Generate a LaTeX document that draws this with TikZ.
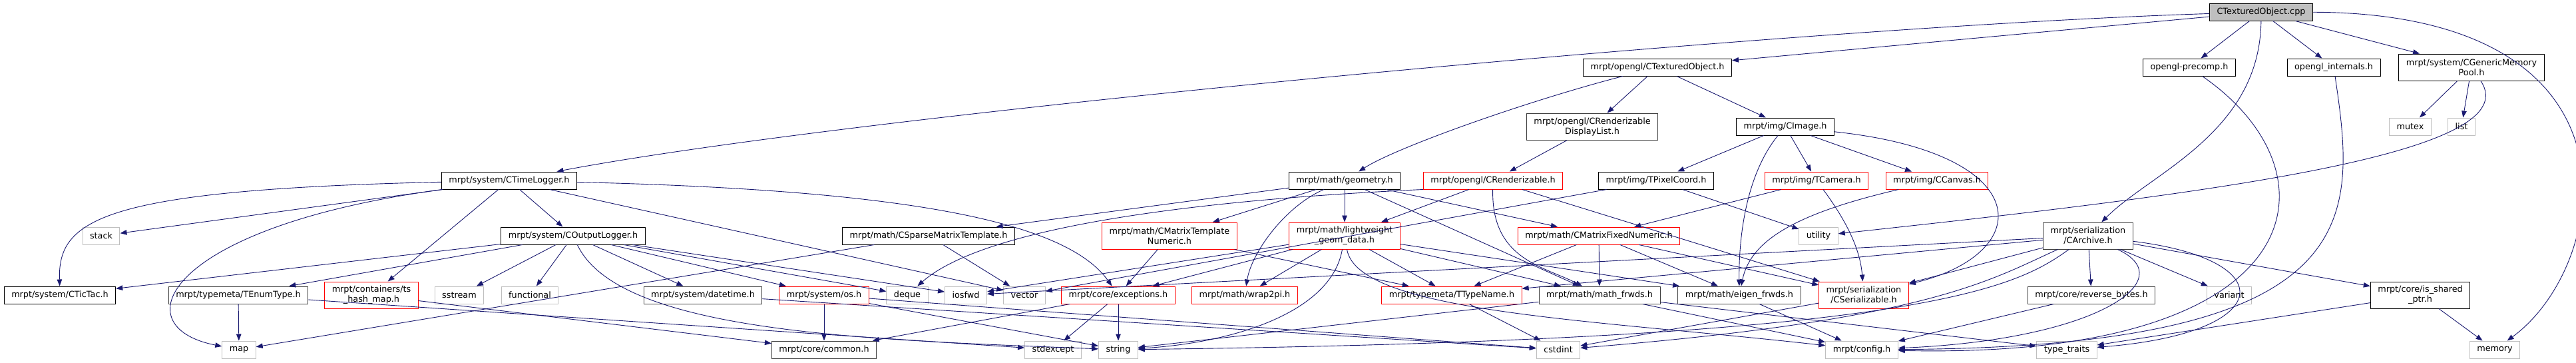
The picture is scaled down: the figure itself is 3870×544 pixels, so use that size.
\documentclass[tikz,border=0pt]{standalone}
\usepackage{fontspec}
\setmainfont{DejaVu Sans}
\usepackage{tikz}
\usetikzlibrary{arrows.meta}
\definecolor{Edge}{HTML}{191970}
\definecolor{Grey}{HTML}{BFBFBF}
\definecolor{Dark}{HTML}{404040}
\definecolor{Red}{HTML}{FF0000}

\begin{document}
\begin{tikzpicture}[x=1pt,y=-1pt,
    box/.style={draw=black,fill=white,line width=1pt,
                minimum height=26pt,inner xsep=11pt,inner ysep=3pt,
                font=\fontsize{12.8}{15}\selectfont,align=center},
    dbox/.style={box,draw=Dark},
    redbox/.style={box,draw=Red},
    sysbox/.style={box,draw=Grey},
    rootbox/.style={box,fill=Grey},
    two/.style={minimum height=40pt},
    arr/.style={-{Triangle[length=10pt,width=7.5pt]},line width=0.9pt,color=Edge}
  ]
    \useasboundingbox (0,0) rectangle (3870,544);
    \fill[white] (0,0) rectangle (3870,544);
    % top rows
    \node[rootbox] (cpp) at (3397,18) {CTexturedObject.cpp};
    \node[box] (ctexobj) at (2490,101) {mrpt/opengl/CTexturedObject.h};
    \node[box] (precomp) at (3289,101) {opengl-precomp.h};
    \node[box] (internals) at (3506,101) {opengl\_internals.h};
    \node[box,two] (mempool) at (3713,101) {mrpt/system/CGenericMemory\\Pool.h};
    \node[dbox,two] (displist) at (2392,190) {mrpt/opengl/CRenderizable\\DisplayList.h};
    \node[box] (cimage) at (2682,190) {mrpt/img/CImage.h};
    \node[sysbox] (mutex) at (3621,190) {mutex};
    \node[sysbox] (list) at (3698,190) {list};
    % middle rows
    \node[box] (timelog) at (765,271) {mrpt/system/CTimeLogger.h};
    \node[box] (geometry) at (2020,271) {mrpt/math/geometry.h};
    \node[redbox] (crender) at (2243,271) {mrpt/opengl/CRenderizable.h};
    \node[box] (tpixel) at (2488,271) {mrpt/img/TPixelCoord.h};
    \node[redbox] (tcamera) at (2729,271) {mrpt/img/TCamera.h};
    \node[redbox] (ccanvas) at (2910,271) {mrpt/img/CCanvas.h};
    \node[sysbox] (stack) at (152,354) {stack};
    \node[box] (outlog) at (861,354) {mrpt/system/COutputLogger.h};
    \node[box] (sparse) at (1395,354) {mrpt/math/CSparseMatrixTemplate.h};
    \node[redbox,two] (mtxtpl) at (1757,354) {mrpt/math/CMatrixTemplate\\Numeric.h};
    \node[redbox,two] (lwgeom) at (2020,354) {mrpt/math/lightweight\\\_geom\_data.h};
    \node[redbox] (mtxfix) at (2402,354) {mrpt/math/CMatrixFixedNumeric.h};
    \node[sysbox] (utility) at (2732,354) {utility};
    \node[dbox,two] (carchive) at (3137,354) {mrpt/serialization\\/CArchive.h};
    % row of leaves
    \node[box] (tictac) at (90,443) {mrpt/system/CTicTac.h};
    \node[dbox] (tenum) at (358,443) {mrpt/typemeta/TEnumType.h};
    \node[redbox,two] (tshash) at (558,443) {mrpt/containers/ts\\\_hash\_map.h};
    \node[sysbox] (sstream) at (690,443) {sstream};
    \node[sysbox] (functional) at (796,443) {functional};
    \node[dbox] (datetime) at (1056,443) {mrpt/system/datetime.h};
    \node[redbox] (os) at (1238,443) {mrpt/system/os.h};
    \node[sysbox] (deque) at (1363,443) {deque};
    \node[sysbox] (iosfwd) at (1451,443) {iosfwd};
    \node[sysbox] (vector) at (1539,443) {vector};
    \node[redbox] (exceptions) at (1680,443) {mrpt/core/exceptions.h};
    \node[redbox] (wrap2pi) at (1870,443) {mrpt/math/wrap2pi.h};
    \node[redbox] (ttypename) at (2181,443) {mrpt/typemeta/TTypeName.h};
    \node[dbox] (mathfrwds) at (2403,443) {mrpt/math/math\_frwds.h};
    \node[dbox] (eigenfrwds) at (2613,443) {mrpt/math/eigen\_frwds.h};
    \node[redbox,two] (cserial) at (2800,443) {mrpt/serialization\\/CSerializable.h};
    \node[dbox] (revbytes) at (3142,443) {mrpt/core/reverse\_bytes.h};
    \node[sysbox] (variant) at (3349,443) {variant};
    \node[box,two] (isshared) at (3636,443) {mrpt/core/is\_shared\\\_ptr.h};
    \node[sysbox] (map) at (359,525) {map};
    \node[dbox] (common) at (1238,525) {mrpt/core/common.h};
    \node[sysbox] (stdexcept) at (1582,525) {stdexcept};
    \node[sysbox] (string) at (1680,525) {string};
    \node[sysbox] (cstdint) at (2341,525) {cstdint};
    \node[sysbox] (config) at (2797,525) {mrpt/config.h};
    \node[sysbox] (typetraits) at (3105,525) {type\_traits};
    \node[sysbox] (memory) at (3748,525) {memory};

    % includes of the source file
    \draw[arr] (cpp) -- (ctexobj);
    \draw[arr] (cpp) .. controls (2700,40) and (1300,170) .. (timelog);
    \draw[arr] (cpp) -- (precomp);
    \draw[arr] (cpp) -- (internals);
    \draw[arr] (cpp) -- (mempool);
    \draw[arr] (cpp) .. controls (3990,20) and (3920,400) .. (memory);
    \draw[arr] (cpp) .. controls (3395,200) and (3230,260) .. (carchive);
    \draw[arr] (precomp) .. controls (3520,260) and (3480,540) .. (config);
    \draw[arr] (internals) .. controls (3540,330) and (3560,520) .. (config);
    \draw[arr] (mempool) -- (mutex);
    \draw[arr] (mempool) -- (list);
    \draw[arr] (mempool) .. controls (3800,230) and (3330,290) .. (utility);
    % opengl side
    \draw[arr] (ctexobj) .. controls (2300,150) and (2100,220) .. (geometry);
    \draw[arr] (ctexobj) -- (displist);
    \draw[arr] (ctexobj) -- (cimage);
    \draw[arr] (displist) -- (crender);
    \draw[arr] (cimage) -- (tpixel);
    \draw[arr] (cimage) -- (tcamera);
    \draw[arr] (cimage) -- (ccanvas);
    \draw[arr] (cimage) .. controls (2625,260) and (2612,350) .. (eigenfrwds);
    \draw[arr] (cimage) .. controls (3060,230) and (3060,380) .. (cserial);
    \draw[arr] (tpixel) -- (vector);
    \draw[arr] (tpixel) -- (utility);
    \draw[arr] (tcamera) -- (mtxfix);
    \draw[arr] (tcamera) .. controls (2780,340) and (2795,380) .. (cserial);
    \draw[arr] (ccanvas) .. controls (2700,320) and (2630,360) .. (eigenfrwds);
    % logger side
    \draw[arr] (timelog) .. controls (150,285) and (87,330) .. (tictac);
    \draw[arr] (timelog) -- (stack);
    \draw[arr] (timelog) .. controls (250,340) and (180,490) .. (map);
    \draw[arr] (timelog) -- (tshash);
    \draw[arr] (timelog) -- (outlog);
    \draw[arr] (timelog) -- (vector);
    \draw[arr] (timelog) .. controls (1350,285) and (1600,330) .. (exceptions);
    \draw[arr] (outlog) -- (tictac);
    \draw[arr] (outlog) -- (tenum);
    \draw[arr] (outlog) -- (sstream);
    \draw[arr] (outlog) -- (functional);
    \draw[arr] (outlog) -- (datetime);
    \draw[arr] (outlog) -- (os);
    \draw[arr] (outlog) -- (deque);
    \draw[arr] (outlog) -- (iosfwd);
    \draw[arr] (outlog) .. controls (930,500) and (1300,510) .. (string);
    \draw[arr] (tenum) -- (map);
    \draw[arr] (tenum) -- (stdexcept);
    \draw[arr] (tshash) -- (common);
    \draw[arr] (datetime) -- (cstdint);
    \draw[arr] (os) -- (common);
    \draw[arr] (os) -- (string);
    \draw[arr] (os) -- (cstdint);
    % math side
    \draw[arr] (sparse) -- (map);
    \draw[arr] (sparse) -- (vector);
    \draw[arr] (geometry) -- (sparse);
    \draw[arr] (geometry) -- (mtxtpl);
    \draw[arr] (geometry) -- (lwgeom);
    \draw[arr] (geometry) .. controls (1930,310) and (1880,380) .. (wrap2pi);
    \draw[arr] (geometry) -- (mathfrwds);
    \draw[arr] (geometry) -- (mtxfix);
    \draw[arr] (crender) -- (lwgeom);
    \draw[arr] (crender.south west) .. controls (1800,300) and (1480,340) .. (deque);
    \draw[arr] (crender) .. controls (2240,390) and (2320,400) .. (mathfrwds);
    \draw[arr] (crender) -- (cserial);
    \draw[arr] (mtxtpl) -- (exceptions);
    \draw[arr] (mtxtpl) -- (ttypename);
    \draw[arr] (lwgeom) -- (exceptions);
    \draw[arr] (lwgeom) -- (wrap2pi);
    \draw[arr] (lwgeom) -- (ttypename);
    \draw[arr] (lwgeom) -- (mathfrwds);
    \draw[arr] (lwgeom) -- (eigenfrwds);
    \draw[arr] (lwgeom) -- (iosfwd);
    \draw[arr] (lwgeom) .. controls (2000,470) and (1850,515) .. (string);
    \draw[arr] (lwgeom) .. controls (2040,470) and (2400,480) .. (config);
    \draw[arr] (mtxfix) -- (ttypename);
    \draw[arr] (mtxfix) -- (mathfrwds);
    \draw[arr] (mtxfix) -- (eigenfrwds);
    \draw[arr] (mtxfix) -- (cserial);
    \draw[arr] (exceptions) -- (common);
    \draw[arr] (exceptions) -- (stdexcept);
    \draw[arr] (exceptions) -- (string);
    \draw[arr] (ttypename) -- (cstdint);
    \draw[arr] (mathfrwds) -- (string);
    \draw[arr] (mathfrwds) -- (config);
    \draw[arr] (mathfrwds) -- (typetraits);
    \draw[arr] (eigenfrwds) -- (config);
    \draw[arr] (cserial) -- (cstdint);
    % serialization side
    \draw[arr] (carchive) -- (cserial);
    \draw[arr] (carchive) -- (revbytes);
    \draw[arr] (carchive) -- (variant);
    \draw[arr] (carchive) -- (isshared);
    \draw[arr] (carchive) -- (ttypename);
    \draw[arr] (carchive) -- (iosfwd);
    \draw[arr] (carchive) .. controls (3430,390) and (3420,500) .. (typetraits);
    \draw[arr] (carchive) .. controls (3280,420) and (3150,510) .. (config);
    \draw[arr] (carchive) .. controls (2990,420) and (2900,480) .. (cstdint);
    \draw[arr] (carchive) .. controls (3030,430) and (2900,510) .. (string);
    \draw[arr] (revbytes) -- (config);
    \draw[arr] (isshared) -- (memory);
    \draw[arr] (isshared) -- (typetraits);
  \end{tikzpicture}
\end{document}
